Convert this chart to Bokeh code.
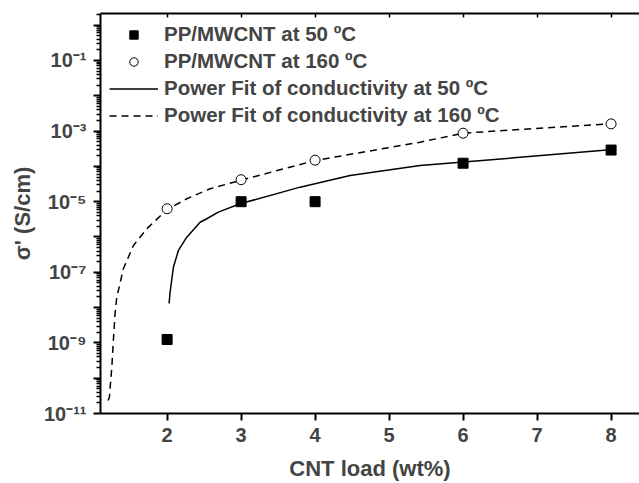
from bokeh.plotting import figure
from bokeh.models import (Range1d, LinearAxis, FixedTicker, CustomJSTickFormatter,
                          Legend, LegendItem)
from bokeh.embed import file_html
from bokeh.resources import INLINE

# ---- data ----
load_x = [2, 3, 4, 6, 8]
sigma_50 = [1.25e-9, 1.0e-5, 1.0e-5, 1.23e-4, 2.9e-4]
sigma_160 = [6.3e-6, 4.2e-5, 1.5e-4, 8.7e-4, 1.6e-3]

fit50_x = [2.027, 2.04, 2.085, 2.153, 2.266, 2.446, 2.536, 2.693, 2.986, 3.797,
           4.473, 5.419, 6.004, 7.986]
fit50_y = [1.31e-8, 2.68e-8, 1.39e-7, 4.15e-7, 9.86e-7, 2.62e-6, 3.28e-6, 5.05e-6,
           8.73e-6, 2.58e-5, 5.52e-5, 1.06e-4, 1.32e-4, 2.95e-4]

fit160_x = [1.203, 1.22, 1.253, 1.274, 1.297, 1.320, 1.409, 1.545, 1.726, 1.996,
            2.266, 2.581, 2.986, 4.0, 5.419, 6.004, 7.986]
fit160_y = [2.33e-11, 2.90e-11, 2.05e-10, 1.17e-9, 6.81e-9, 1.93e-8, 1.26e-7,
            5.74e-7, 1.71e-6, 5.90e-6, 1.21e-5, 2.32e-5, 3.99e-5, 1.47e-4,
            4.85e-4, 8.73e-4, 1.61e-3]

x_ticks = [2, 3, 4, 5, 6, 7, 8]
y_major_exps = list(range(-11, 1))
y_label_exps = [-11, -9, -7, -5, -3, -1]

labels = ["PP/MWCNT at 50 \u00baC", "PP/MWCNT at 160 \u00baC",
          "Power Fit of conductivity at 50 \u00baC",
          "Power Fit of conductivity at 160 \u00baC"]

FONT = "Liberation Sans"

p = figure(width=639, height=483, x_range=Range1d(1.1, 8.384),
           y_range=Range1d(1e-11, 2.14), y_axis_type="log",
           output_backend="svg", toolbar_location=None,
           min_border_left=100, min_border_right=0, min_border_top=13,
           min_border_bottom=70)
p.grid.visible = False
p.outline_line_color = None
p.background_fill_color = "white"

# x axis
xa = p.xaxis[0]
xa.ticker = FixedTicker(ticks=x_ticks)
xa.axis_label = "CNT load (wt%)"
xa.axis_line_width = 2
xa.major_tick_line_width = 2
xa.major_tick_out = 7
xa.major_tick_in = 0
xa.minor_tick_line_color = None
xa.major_label_standoff = 7
xa.axis_label_standoff = 11
xa.major_label_text_font = FONT
xa.major_label_text_font_style = "bold"
xa.major_label_text_font_size = "20px"
xa.axis_label_text_font = FONT
xa.axis_label_text_font_style = "bold"
xa.axis_label_text_font_size = "22px"

# y axis
ya = p.yaxis[0]
majors = [10.0 ** e for e in y_major_exps]
minors = [m * 10.0 ** e for e in y_major_exps for m in range(2, 10)]
ya.ticker = FixedTicker(ticks=majors, minor_ticks=minors)
ya.formatter = CustomJSTickFormatter(args=dict(exps=y_label_exps), code="""
    const e = Math.round(Math.log10(tick));
    if (!exps.includes(e)) return "";
    const sup = {"-": "\u207b", "0": "\u2070", "1": "\u00b9", "2": "\u00b2", "3": "\u00b3",
                 "4": "\u2074", "5": "\u2075", "6": "\u2076", "7": "\u2077", "8": "\u2078", "9": "\u2079"};
    return "10" + String(e).split("").map(c => sup[c]).join("");
""")
ya.axis_label = "\u03c3' (S/cm)"
ya.axis_line_width = 2
ya.major_tick_line_width = 2
ya.minor_tick_line_width = 1.5
ya.major_tick_out = 7
ya.major_tick_in = 0
ya.minor_tick_out = 4
ya.minor_tick_in = 0
ya.major_label_standoff = 7
ya.axis_label_standoff = 6
ya.major_label_text_font = FONT
ya.major_label_text_font_style = "bold"
ya.major_label_text_font_size = "20px"
ya.axis_label_text_font = FONT
ya.axis_label_text_font_style = "bold"
ya.axis_label_text_font_size = "22px"

# top border axis
top = LinearAxis(ticker=FixedTicker(ticks=x_ticks),
                 formatter=CustomJSTickFormatter(code="return '';"))
top.axis_line_width = 2
top.major_tick_line_width = 1.5
top.major_tick_in = 4
top.major_tick_out = 0
top.minor_tick_line_color = None
top.major_label_text_font_size = "1px"
top.major_label_standoff = 0
p.add_layout(top, "above")

# glyphs
l50 = p.line(fit50_x, fit50_y, line_color="black", line_width=1.5)
l160 = p.line(fit160_x, fit160_y, line_color="black", line_width=1.5, line_dash="7 5")
s50 = p.scatter(load_x, sigma_50, marker="square", size=10,
                fill_color="black", line_color="black")
s160 = p.scatter(load_x, sigma_160, marker="circle", size=10,
                 fill_color="white", line_color="black", line_width=1)

legend = Legend(items=[LegendItem(label=labels[0], renderers=[s50]),
                       LegendItem(label=labels[1], renderers=[s160]),
                       LegendItem(label=labels[2], renderers=[l50]),
                       LegendItem(label=labels[3], renderers=[l160])],
                location="top_left")
legend.border_line_color = None
legend.background_fill_alpha = 0
legend.label_text_font = FONT
legend.label_text_font_style = "bold"
legend.label_text_font_size = "20.5px"
legend.glyph_width = 49
legend.glyph_height = 21
legend.label_height = 21
legend.spacing = 3
legend.padding = 0
legend.margin = 9
legend.label_standoff = 6
p.add_layout(legend)

open("out.html", "w").write(file_html(p, INLINE))
